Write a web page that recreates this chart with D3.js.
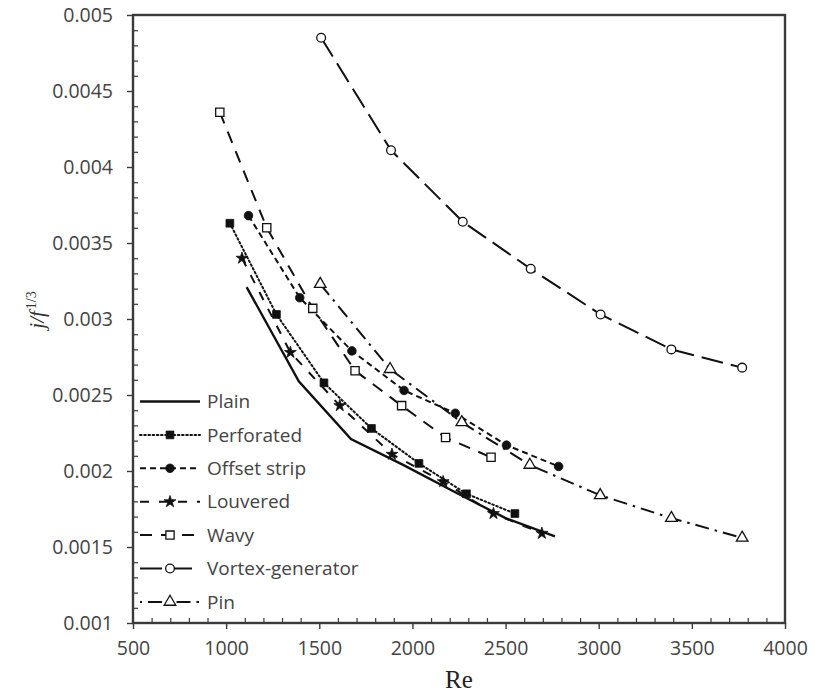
<!DOCTYPE html>
<html>
<head>
<meta charset="utf-8">
<script src="https://cdn.jsdelivr.net/npm/d3@7"></script>
<style>
  html, body { margin: 0; padding: 0; background: #fff; }
  svg { display: block; }
</style>
</head>
<body>
<svg id="chart" width="815" height="693"></svg>
<script>
// Colburn/friction ratio j/f^(1/3) versus Reynolds number for several fin types
const plainRe = [1110, 1390, 1670, 1950, 2230, 2500, 2765];
const plainJf = [0.00321, 0.00259, 0.00221, 0.00204, 0.00186, 0.00169, 0.00157];

const perforatedRe = [1020, 1270, 1525, 1780, 2035, 2290, 2550];
const perforatedJf = [0.00363, 0.00303, 0.00258, 0.00228, 0.00205, 0.00185, 0.00172];

const offsetRe = [1120, 1395, 1675, 1955, 2230, 2505, 2785];
const offsetJf = [0.00368, 0.00314, 0.00279, 0.00253, 0.00238, 0.00217, 0.00203];

const louveredRe = [1085, 1345, 1610, 1890, 2165, 2435, 2695];
const louveredJf = [0.0034, 0.00278, 0.00243, 0.00211, 0.00193, 0.00172, 0.00159];

const wavyRe = [966, 1218, 1465, 1692, 1942, 2178, 2422];
const wavyJf = [0.00436, 0.0036, 0.00307, 0.00266, 0.00243, 0.00222, 0.00209];

const vortexRe = [1510, 1885, 2270, 2635, 3010, 3390, 3770];
const vortexJf = [0.00485, 0.00411, 0.00364, 0.00333, 0.00303, 0.0028, 0.00268];

const pinRe = [1505, 1880, 2265, 2630, 3008, 3390, 3770];
const pinJf = [0.00323, 0.00267, 0.00232, 0.00204, 0.00184, 0.00169, 0.00156];

const seriesNames = ["Plain", "Perforated", "Offset strip", "Louvered", "Wavy", "Vortex-generator", "Pin"];

const xTicks = [500, 1000, 1500, 2000, 2500, 3000, 3500, 4000];
const yTicks = [0.001, 0.0015, 0.002, 0.0025, 0.003, 0.0035, 0.004, 0.0045, 0.005];

const ink = "#111";
const axisInk = "#3a3a3a";
const labelInk = "#444";

const series = [
  { name: seriesNames[0], re: plainRe, jf: plainJf, dash: null, width: 2.4, symbol: null },
  { name: seriesNames[1], re: perforatedRe, jf: perforatedJf, dash: "1.6,2.6", width: 2, symbol: d3.symbolSquare, size: 60, fill: ink },
  { name: seriesNames[2], re: offsetRe, jf: offsetJf, dash: "6,4", width: 2, symbol: d3.symbolCircle, size: 58, fill: ink },
  { name: seriesNames[3], re: louveredRe, jf: louveredJf, dash: "9,10", width: 2, symbol: d3.symbolStar, size: 44, fill: ink },
  { name: seriesNames[4], re: wavyRe, jf: wavyJf, dash: "12,9", width: 2, symbol: d3.symbolSquare, size: 68, fill: "#fff" },
  { name: seriesNames[5], re: vortexRe, jf: vortexJf, dash: "22,8", width: 2, symbol: d3.symbolCircle, size: 60, fill: "#fff" },
  { name: seriesNames[6], re: pinRe, jf: pinJf, dash: "14,6,2.5,6", width: 2, symbol: d3.symbolTriangle, size: 58, fill: "#fff" }
];

const svg = d3.select("#chart");
const margin = { left: 133, right: 30, top: 15, bottom: 70 };
const W = 815, H = 693;

const x = d3.scaleLinear().domain([500, 4000]).range([margin.left, W - margin.right]);
const y = d3.scaleLinear().domain([0.001, 0.005]).range([H - margin.bottom, margin.top]);

const font = "'Open Sans', 'DejaVu Sans', sans-serif";

// minor ticks (inside the frame)
const xMinor = d3.range(600, 4000, 100).filter(v => v % 500 !== 0);
const yMinor = d3.range(11, 50).map(i => i / 10000).filter(v => Math.round(v * 10000) % 5 !== 0);

const gMinX = svg.append("g").attr("transform", `translate(0,${y(0.001)})`)
  .call(d3.axisBottom(x).tickValues(xMinor).tickSize(-5).tickFormat(""));
const gMinY = svg.append("g").attr("transform", `translate(${x(500)},0)`)
  .call(d3.axisLeft(y).tickValues(yMinor).tickSize(-5).tickFormat(""));
[gMinX, gMinY].forEach(g => {
  g.select(".domain").remove();
  g.selectAll("line").attr("stroke", axisInk).attr("stroke-width", 1.2);
});

// major axes
const gx = svg.append("g").attr("transform", `translate(0,${y(0.001)})`)
  .call(d3.axisBottom(x).tickValues(xTicks).tickSize(6).tickPadding(12).tickFormat(d3.format("d")));
const gy = svg.append("g").attr("transform", `translate(${x(500)},0)`)
  .call(d3.axisLeft(y).tickValues(yTicks).tickSize(6).tickPadding(14).tickFormat(d => String(+d.toFixed(4))));
[gx, gy].forEach(g => {
  g.select(".domain").remove();
  g.selectAll("line").attr("stroke", axisInk).attr("stroke-width", 1.4);
  g.selectAll("text").attr("fill", labelInk).style("font-family", font).style("font-size", "19.5px");
});

// frame around the plot area
svg.append("rect")
  .attr("x", x(500)).attr("y", y(0.005))
  .attr("width", x(4000) - x(500)).attr("height", y(0.001) - y(0.005))
  .attr("fill", "none").attr("stroke", axisInk).attr("stroke-width", 2.4);

// series lines and markers
const line = d3.line().x(d => x(d[0])).y(d => y(d[1]));
const plot = svg.append("g");
series.forEach(s => {
  const pts = s.re.map((r, i) => [r, s.jf[i]]);
  plot.append("path").datum(pts)
    .attr("d", line)
    .attr("fill", "none")
    .attr("stroke", ink)
    .attr("stroke-width", s.width)
    .attr("stroke-dasharray", s.dash)
    .attr("stroke-linecap", s.dash === "1.6,2.6" ? "round" : "butt");
  if (s.symbol) {
    plot.selectAll(null).data(pts).enter().append("path")
      .attr("transform", d => `translate(${x(d[0])},${y(d[1])})`)
      .attr("d", d3.symbol().type(s.symbol).size(s.size))
      .attr("fill", s.fill)
      .attr("stroke", ink)
      .attr("stroke-width", s.fill === "#fff" ? 1.3 : 0.8);
  }
});

// legend
const legend = svg.append("g");
series.forEach((s, i) => {
  const yy = 401.5 + i * 33.4;
  const row = legend.append("g").attr("transform", `translate(0,${yy})`);
  row.append("line")
    .attr("x1", 140).attr("x2", 200).attr("y1", 0).attr("y2", 0)
    .attr("stroke", ink).attr("stroke-width", s.width)
    .attr("stroke-dasharray", s.dash)
    .attr("stroke-dashoffset", s.name === "Pin" ? -8 : 0)
    .attr("stroke-linecap", s.dash === "1.6,2.6" ? "round" : "butt");
  if (s.symbol) {
    row.append("path")
      .attr("transform", "translate(170,0)")
      .attr("d", d3.symbol().type(s.symbol).size(s.size))
      .attr("fill", s.fill).attr("stroke", ink)
      .attr("stroke-width", s.fill === "#fff" ? 1.3 : 0.8);
  }
  row.append("text")
    .attr("x", 207).attr("y", 0).attr("dy", "0.35em")
    .attr("fill", labelInk)
    .style("font-family", font).style("font-size", "19px")
    .text(s.name);
});

// axis titles
svg.append("text")
  .attr("x", (x(500) + x(4000)) / 2).attr("y", 688)
  .attr("text-anchor", "middle")
  .attr("fill", "#222")
  .style("font-family", "'Liberation Serif', 'DejaVu Serif', serif")
  .style("font-size", "25px")
  .text("Re");

const yTitle = svg.append("text")
  .attr("transform", "translate(44,310) rotate(-90)")
  .attr("text-anchor", "middle")
  .attr("fill", "#333")
  .style("font-family", "'Liberation Serif', 'DejaVu Serif', serif");
yTitle.append("tspan").style("font-style", "italic").style("font-size", "21px").text("j/f");
yTitle.append("tspan").attr("dy", -8).attr("dx", 2).style("font-size", "14px").text("1/3");
</script>
</body>
</html>
